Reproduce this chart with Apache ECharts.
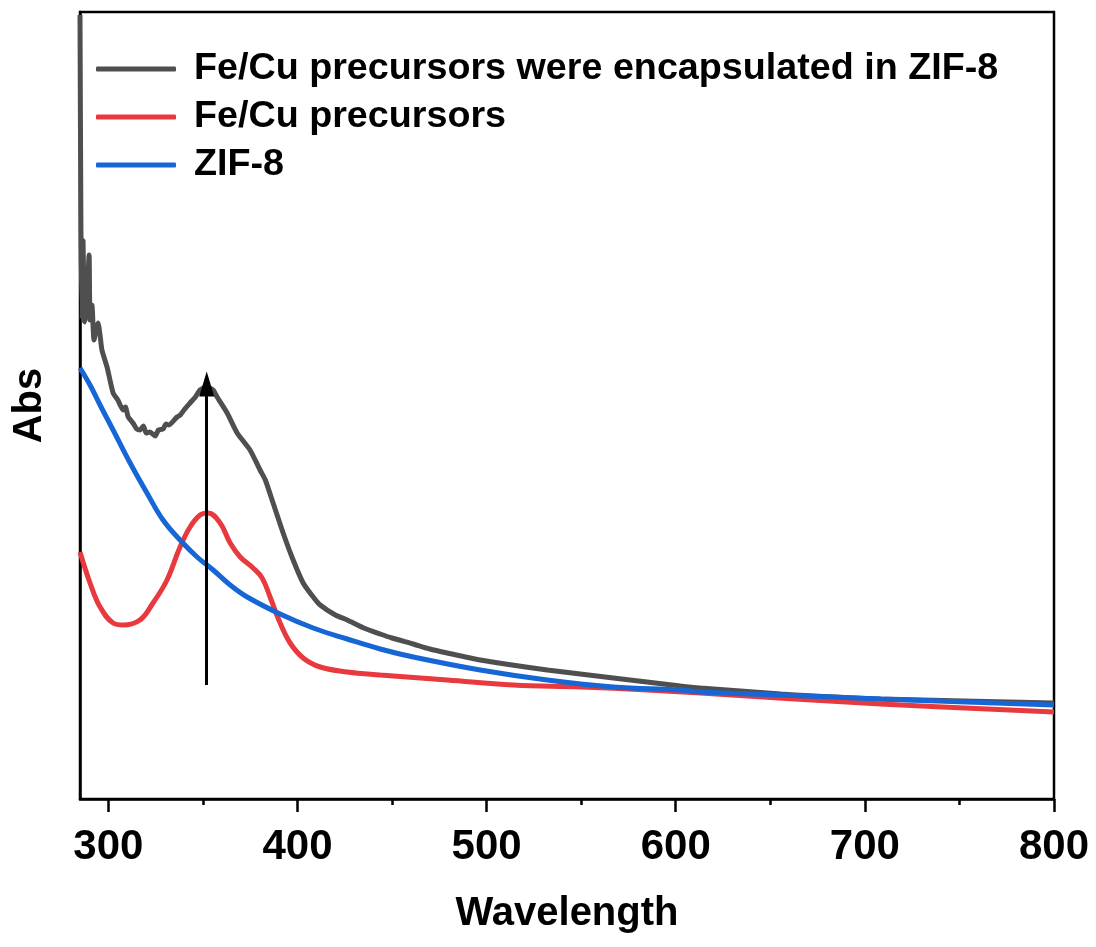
<!DOCTYPE html>
<html>
<head>
<meta charset="utf-8">
<script src="https://cdn.jsdelivr.net/npm/echarts@6/dist/echarts.min.js"></script>
<style>
  html, body { margin: 0; padding: 0; background: #fff; }
  #main { width: 1096px; height: 947px; }
</style>
</head>
<body>
<div id="main"></div>
<script>
// series names (legend order)
var seriesNames = ['Fe/Cu precursors were encapsulated in ZIF-8', 'Fe/Cu precursors', 'ZIF-8'];

// Fe/Cu precursors were encapsulated in ZIF-8 (gray)
var grayWl = [285.0, 285.5, 286.1, 286.6, 287.1, 287.6, 288.7, 289.8, 290.3, 291.3, 292.4, 293.5, 294.5, 295.6, 296.6,
  299.3, 302.5, 305.0, 307.8, 309.0, 310.5, 313.0, 315.0, 316.7, 318.5, 320.0, 322.0, 324.7, 326.5, 328.9, 330.5, 332.0,
  336.3, 338.0, 340.0, 343.2, 346.0, 348.5, 352.2, 355.4, 357.5, 362.8, 368.1, 374.9, 380.2, 383.0, 387.1, 392.4,
  397.7, 403.0, 408.3, 412.0, 420.0, 426.3, 435.0, 443.7, 450.0, 461.2, 470.0, 479.2, 496.6, 532.1, 567.0, 602.5,
  613.0, 655.4, 708.3, 800.0];
var grayAbs = [7.84, 5.69, 4.79, 5.59, 4.99, 4.77, 4.99, 5.44, 4.79, 4.94, 4.59, 4.69, 4.76, 4.64, 4.49,
  4.32, 4.06, 3.99, 3.89, 3.92, 3.82, 3.76, 3.70, 3.69, 3.73, 3.66, 3.67, 3.63, 3.69, 3.70, 3.75, 3.74,
  3.82, 3.84, 3.89, 3.96, 4.02, 4.09, 4.12, 4.09, 4.02, 3.86, 3.66, 3.49, 3.29, 3.19, 2.96, 2.66,
  2.39, 2.16, 2.02, 1.94, 1.84, 1.79, 1.71, 1.65, 1.61, 1.55, 1.50, 1.46, 1.39, 1.29, 1.21, 1.13,
  1.11, 1.05, 1.00, 0.96];

// Fe/Cu precursors (red)
var redWl = [285.0, 290.3, 295.6, 302.5, 307.8, 316.7, 323.6, 331.0, 337.9, 343.2, 348.5, 352.7, 359.1, 364.4,
  369.7, 376.5, 381.3, 385.5, 390.8, 396.1, 403.0, 412.0, 426.3, 443.7, 479.2, 514.1, 549.6, 585.0, 613.0, 708.3, 800.0];
var redAbs = [2.47, 2.16, 1.92, 1.76, 1.74, 1.79, 1.96, 2.19, 2.52, 2.72, 2.84, 2.86, 2.76, 2.56,
  2.42, 2.31, 2.21, 2.02, 1.76, 1.56, 1.41, 1.32, 1.27, 1.24, 1.19, 1.14, 1.12, 1.09, 1.06, 0.95, 0.87];

// ZIF-8 (blue)
var blueWl = [285.0, 290.3, 295.6, 302.5, 311.5, 320.4, 328.9, 337.9, 346.9, 355.4, 364.4, 373.4, 390.8, 408.3,
  426.3, 443.7, 461.2, 496.6, 532.1, 567.0, 602.5, 613.0, 655.4, 708.3, 800.0];
var blueAbs = [4.31, 4.14, 3.94, 3.69, 3.36, 3.06, 2.79, 2.59, 2.42, 2.29, 2.14, 2.02, 1.85, 1.71,
  1.60, 1.50, 1.42, 1.29, 1.19, 1.12, 1.09, 1.07, 1.04, 1.00, 0.94];

// x axis ticks
var majorTicks = [300, 400, 500, 600, 700, 800];
var minorTicks = [350, 450, 550, 650, 750];

// arrow marking the absorption band
var arrowX = 352;
var arrowFrom = 1.14;
var arrowTo = 4.15;

function pairs(xs, ys) {
  var out = [];
  for (var i = 0; i < xs.length; i++) {
    out.push([xs[i], ys[i]]);
  }
  return out;
}

var font = 'Liberation Sans, Arial, sans-serif';
var myChart = echarts.init(document.getElementById('main'));

var option = {
  animation: false,
  backgroundColor: '#fff',
  grid: {
    left: 80, right: 42, top: 12, bottom: 148,
    show: true, borderColor: '#000', borderWidth: 2.5,
    outerBoundsMode: 'none'
  },
  legend: {
    data: seriesNames,
    orient: 'vertical',
    left: 91, top: 44,
    icon: 'roundRect',
    itemWidth: 80, itemHeight: 5,
    itemGap: 8,
    textStyle: {
      fontFamily: font, fontWeight: 'bold', fontSize: 37.7, color: '#000',
      lineHeight: 40, padding: [0, 0, 0, 13]
    }
  },
  xAxis: [{
    type: 'value',
    min: 285, max: 800,
    name: 'Wavelength',
    nameLocation: 'middle',
    nameGap: 95,
    nameTextStyle: { fontFamily: font, fontWeight: 'bold', fontSize: 40, color: '#000' },
    axisLine: { lineStyle: { color: '#000', width: 2.5 } },
    axisTick: { show: true, inside: false, length: 13, lineStyle: { color: '#000', width: 2.5 }, customValues: majorTicks },
    axisLabel: { fontFamily: font, fontWeight: 'bold', fontSize: 42, color: '#000', margin: 27, customValues: majorTicks },
    splitLine: { show: false }
  }, {
    type: 'value',
    min: 285, max: 800,
    position: 'bottom',
    axisLine: { show: false },
    axisTick: { show: true, inside: false, length: 6, lineStyle: { color: '#000', width: 2.5 }, customValues: minorTicks },
    axisLabel: { show: false },
    splitLine: { show: false }
  }],
  yAxis: {
    type: 'value',
    min: 0, max: 7.87,
    name: 'Abs',
    nameLocation: 'middle',
    nameGap: 30,
    nameTextStyle: { fontFamily: font, fontWeight: 'bold', fontSize: 40, color: '#000' },
    axisLine: { show: true, lineStyle: { color: '#000', width: 2.5 } },
    axisTick: { show: false },
    axisLabel: { show: false },
    splitLine: { show: false }
  },
  series: [{
    name: seriesNames[0],
    type: 'line',
    data: pairs(grayWl, grayAbs),
    showSymbol: false,
    smooth: 0.2,
    color: '#4f4f4f',
    lineStyle: { width: 5, color: '#4f4f4f' },
    markLine: {
      silent: true,
      symbol: ['none', 'triangle'],
      label: { show: false },
      lineStyle: { color: '#000', width: 3, type: 'solid' },
      emphasis: { disabled: true },
      data: [[
        { coord: [arrowX, arrowFrom], symbol: 'none' },
        { coord: [arrowX, arrowTo], symbol: 'triangle', symbolSize: [15, 25] }
      ]]
    }
  }, {
    name: seriesNames[1],
    type: 'line',
    data: pairs(redWl, redAbs),
    showSymbol: false,
    smooth: 0.4,
    color: '#e8393e',
    lineStyle: { width: 5, color: '#e8393e' }
  }, {
    name: seriesNames[2],
    type: 'line',
    data: pairs(blueWl, blueAbs),
    showSymbol: false,
    smooth: 0.4,
    color: '#1766d6',
    lineStyle: { width: 5, color: '#1766d6' }
  }]
};

myChart.setOption(option);
</script>
</body>
</html>
